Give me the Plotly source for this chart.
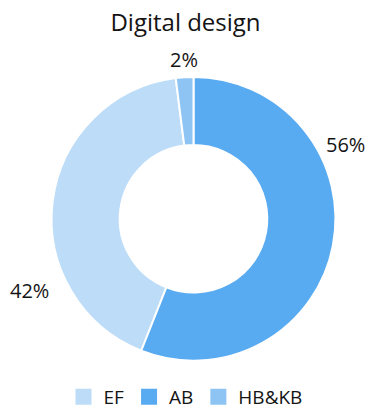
import math
import plotly.graph_objects as go

# Share of students per programme in "Digital design"
labels = ["EF", "AB", "HB&KB"]
values = [42, 56, 2]
colors = ["#bddcf8", "#58aaf1", "#8dc4f4"]

W, H = 371, 416
FONT = "Open Sans"
INK = "#141414"

# ring placement (pixels) and where each percentage label sits around it
CX, CY, R = 193.5, 222.0, 144.0
label_angle = {"EF": 246.0, "AB": 63.5, "HB&KB": -3.4}   # degrees clockwise from 12 o'clock
label_dist = {"EF": 180.0, "AB": 170.0, "HB&KB": 162.0}

fig = go.Figure()

fig.add_trace(
    go.Pie(
        labels=labels,
        values=values,
        hole=0.52,
        sort=False,
        direction="counterclockwise",
        rotation=-158.4,
        marker=dict(colors=colors, line=dict(color="white", width=2)),
        textinfo="none",
        hoverinfo="label+percent",
        showlegend=False,
        domain=dict(
            x=[(CX - R) / W, (CX + R) / W],
            y=[(H - CY - R) / H, (H - CY + R) / H],
        ),
    )
)

# legend entries with square swatches
for lab, col in zip(labels, colors):
    fig.add_trace(
        go.Scatter(
            x=[None], y=[None], mode="markers", name=lab,
            marker=dict(symbol="square", size=16, color=col),
            showlegend=True, hoverinfo="skip",
        )
    )

total = sum(values)
annotations = []
for lab, v in zip(labels, values):
    a = math.radians(label_angle[lab])
    px = CX + label_dist[lab] * math.sin(a)
    py = CY - label_dist[lab] * math.cos(a)
    annotations.append(
        dict(
            x=px / W, y=1 - py / H, xref="paper", yref="paper",
            text=f"{round(v / total * 100)}%", showarrow=False,
            xanchor="center", yanchor="middle",
            font=dict(size=20, family=FONT, color=INK),
        )
    )

fig.update_layout(
    width=W,
    height=H,
    paper_bgcolor="white",
    plot_bgcolor="white",
    font=dict(family=FONT, color=INK),
    title=dict(
        text="Digital design",
        x=0.5,
        xanchor="center",
        y=1 - 23 / H,
        yanchor="middle",
        font=dict(size=24, family=FONT, color=INK),
    ),
    margin=dict(l=0, r=0, t=0, b=0),
    xaxis=dict(visible=False),
    yaxis=dict(visible=False),
    annotations=annotations,
    showlegend=True,
    legend=dict(
        orientation="h",
        x=0.5,
        xanchor="center",
        y=13 / H,
        yanchor="middle",
        font=dict(size=19, family=FONT, color=INK),
        itemclick=False,
    ),
)

fig.write_html("out.html")
